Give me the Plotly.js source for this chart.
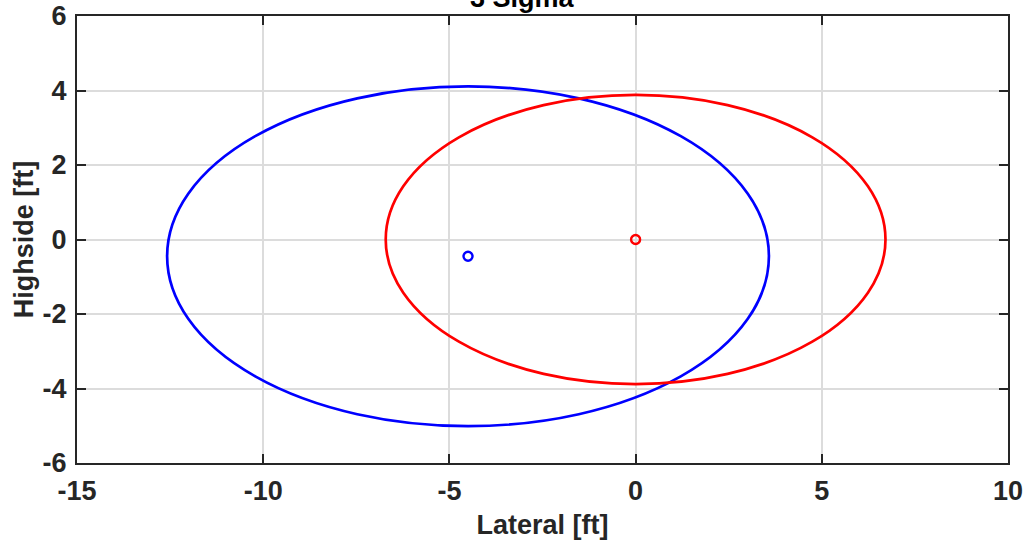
<!DOCTYPE html>
<html>
<head>
<meta charset="utf-8">
<script src="https://cdn.plot.ly/plotly-3.0.1.min.js"></script>
<style>html,body{margin:0;padding:0;background:#fff;}#chart{width:1026px;height:543px;}</style>
</head>
<body>
<div id="chart"></div>
<script>
// Ellipse data (center and semi-axes in ft)
const ellipseNames = ['Offset', 'Reference'];
const centerX = [-4.5, 0];
const centerY = [-0.45, 0];
const semiX = [8.08, 6.71];
const semiY = [4.56, 3.88];
const xTicks = [-15, -10, -5, 0, 5, 10];
const yTicks = [-6, -4, -2, 0, 2, 4, 6];
const titleText = '3 Sigma';
const xLabel = 'Lateral [ft]';
const yLabel = 'Highside [ft]';

const colors = ['#0000ff', '#ff0000'];
const axisColor = '#262626';
const fontFam = '"Liberation Sans", Arial, Helvetica, sans-serif';
const fsz = 27;

const traces = ellipseNames.map((n, i) => ({
  type: 'scatter', mode: 'markers', name: n,
  x: [centerX[i]], y: [centerY[i]],
  marker: {symbol: 'circle-open', size: 9, color: colors[i], line: {width: 2.4, color: colors[i]}},
  showlegend: false, hoverinfo: 'skip'
}));

const shapes = ellipseNames.map((n, i) => ({
  type: 'circle', xref: 'x', yref: 'y',
  x0: centerX[i] - semiX[i], x1: centerX[i] + semiX[i],
  y0: centerY[i] - semiY[i], y1: centerY[i] + semiY[i],
  line: {color: colors[i], width: 2.7}, layer: 'above'
}));

const axisCommon = {
  showline: true, linecolor: axisColor, linewidth: 2, mirror: 'ticks',
  ticks: 'inside', ticklen: 9, tickwidth: 2, tickcolor: axisColor,
  showgrid: true, gridcolor: '#dcdcdc', gridwidth: 2, zeroline: false,
  tickfont: {family: fontFam, size: fsz, color: axisColor, weight: 'bold'},
};

const layout = {
  width: 1026, height: 543,
  margin: {l: 77, r: 18, t: 16, b: 80},
  paper_bgcolor: '#ffffff', plot_bgcolor: '#ffffff',
  font: {family: fontFam, weight: 'bold'},
  xaxis: Object.assign({}, axisCommon, {
    range: [-15, 10], tickvals: xTicks, ticktext: xTicks.map(String),
    ticklabelstandoff: 3,
    title: {text: '<b>' + xLabel + '</b>', standoff: 10, font: {family: fontFam, size: fsz, color: axisColor}}
  }),
  yaxis: Object.assign({}, axisCommon, {
    range: [-6, 6], tickvals: yTicks, ticktext: yTicks.map(String),
    ticklabelstandoff: 3,
    title: {text: '<b>' + yLabel + '</b>', standoff: 1, font: {family: fontFam, size: fsz, color: axisColor}}
  }),
  annotations: [{
    text: '<b>' + titleText + '</b>', xref: 'paper', yref: 'paper',
    x: 0.479, y: 1 + 18 / 447, xanchor: 'center', yanchor: 'middle',
    showarrow: false, font: {family: fontFam, size: fsz, color: '#000'}
  }],
  shapes: shapes,
  showlegend: false
};

Plotly.newPlot('chart', traces, layout, {staticPlot: true, displayModeBar: false});
</script>
</body>
</html>
